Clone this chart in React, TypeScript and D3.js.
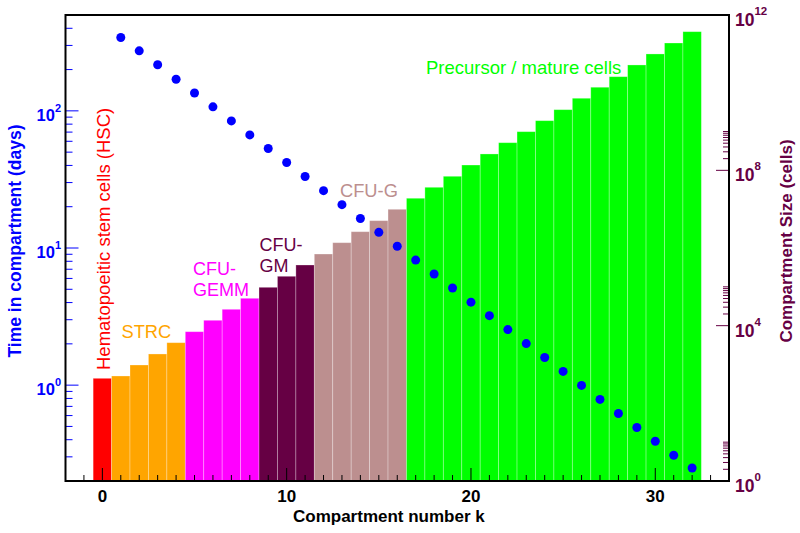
import React from "react";
import * as d3 from "d3";

// Compartment size (cells) for k = 0..32 (right axis)
const compartmentSize: number[] = [
  441, 506, 971, 1866, 3646, 7000, 1.376e4, 2.64e4, 5.07e4, 9.73e4, 1.87e5,
  3.65e5, 7.0e5, 1.37e6, 2.63e6, 5.06e6, 9.93e6, 1.91e7, 3.66e7, 7.03e7,
  1.37e8, 2.64e8, 5.15e8, 9.9e8, 1.9e9, 3.65e9, 7.18e9, 1.38e10, 2.58e10,
  5.17e10, 9.93e10, 1.9e11, 3.72e11,
];

// Time in compartment (days) for k = 1..32 (left axis)
const timeK: number[] = [
  1, 2, 3, 4, 5, 6, 7, 8, 9, 10, 11, 12, 13, 14, 15, 16, 17, 18, 19, 20, 21,
  22, 23, 24, 25, 26, 27, 28, 29, 30, 31, 32,
];
const timeDays: number[] = [
  343, 274, 217, 170, 135, 107, 84.5, 66.8, 53.2, 42.0, 33.2, 26.2, 20.7,
  16.4, 13.0, 10.3, 8.16, 6.46, 5.11, 4.03, 3.21, 2.54, 2.01, 1.59, 1.26,
  0.995, 0.787, 0.621, 0.491, 0.39, 0.308, 0.249,
];

// Compartment groups: name, first k, last k, colour
const groupNames: string[] = ["HSC", "STRC", "CFU-GEMM", "CFU-GM", "CFU-G", "Precursor"];
const groupStart: number[] = [0, 1, 5, 9, 12, 17];
const groupEnd: number[] = [0, 4, 8, 11, 16, 32];
const groupColors: string[] = ["#ff0000", "#ffa500", "#ff00ff", "#660044", "#bc8f8f", "#00ff00"];

const xTicksMajor: number[] = [0, 10, 20, 30];
const leftMajor: number[] = [1, 10, 100];
const leftExp: string[] = ["0", "1", "2"];
const rightMajor: number[] = [1, 1e4, 1e8, 1e12];
const rightExp: string[] = ["0", "4", "8", "12"];

const FONT = "'Liberation Sans', Arial, Helvetica, sans-serif";
const BLUE = "#0000ff";
const MAROON = "#660044";

export default function App() {
  const L = 65.5, R = 729, T = 15, B = 481;
  const x = d3.scaleLinear().domain([-2, 34]).range([L, R]);
  const yL = d3.scaleLog().domain([0.2, 500]).range([B, T]);
  const yR = d3.scaleLog().domain([1, 1e12]).range([B, T]);

  const colorOf = (k: number) => {
    for (let i = 0; i < groupStart.length; i++) {
      if (k >= groupStart[i] && k <= groupEnd[i]) return groupColors[i];
    }
    return "#000";
  };

  const leftMinor: number[] = [];
  for (let d = -1; d <= 2; d++) {
    for (let m = 2; m <= 9; m++) {
      const v = m * Math.pow(10, d);
      if (v >= 0.2 && v <= 500) leftMinor.push(v);
    }
  }
  const rightMinor: number[] = [];
  [0, 4, 8].forEach((d) => {
    for (let m = 2; m <= 10; m++) rightMinor.push(m * Math.pow(10, d));
  });
  const xMinor = d3.range(-1, 34);

  return (
    <svg
      width={800}
      height={533}
      style={{ position: "absolute", left: 0, top: 0, background: "#fff" }}
      fontFamily={FONT}
    >
      {compartmentSize.map((v, k) => (
        <rect
          key={"b" + k}
          x={x(k - 0.5)}
          y={yR(v)}
          width={x(k + 0.5) - x(k - 0.5)}
          height={B - yR(v)}
          fill={colorOf(k)}
          stroke="rgba(255,255,255,0.35)"
          strokeWidth={0.8}
        />
      ))}

      {timeDays.map((t, i) => (
        <circle key={"d" + i} cx={x(timeK[i])} cy={yL(t)} r={4.5} fill={BLUE} />
      ))}

      <text transform={`translate(110,370) rotate(-90)`} fill="#ff0000" fontSize={18.5}>
        Hematopoeitic stem cells (HSC)
      </text>
      <text x={121.5} y={337.5} fill="#ffa500" fontSize={18.3}>STRC</text>
      <text x={193} y={275} fill="#ff00ff" fontSize={18}>CFU-</text>
      <text x={193} y={295.5} fill="#ff00ff" fontSize={18}>GEMM</text>
      <text x={259.5} y={251} fill={MAROON} fontSize={18}>CFU-</text>
      <text x={259.5} y={271.5} fill={MAROON} fontSize={18}>GM</text>
      <text x={340} y={197} fill="#bc8f8f" fontSize={18.3}>CFU-G</text>
      <text x={426} y={74} fill="#00ff00" fontSize={18.5}>Precursor / mature cells</text>

      {xMinor.map((v) => (
        <line key={"xm" + v} x1={x(v)} x2={x(v)} y1={B} y2={B - (v % 10 === 0 ? 13 : 6)} stroke="#000" strokeWidth={1} />
      ))}
      {xTicksMajor.map((v) => (
        <text key={"xl" + v} x={x(v)} y={502} textAnchor="middle" fontSize={17} fontWeight="bold" fill="#000">
          {v}
        </text>
      ))}

      {leftMinor.map((v, i) => (
        <line key={"lm" + i} x1={L} x2={L + 7} y1={yL(v)} y2={yL(v)} stroke={BLUE} strokeWidth={1} />
      ))}
      {leftMajor.map((v, i) => (
        <g key={"lM" + i}>
          <line x1={L} x2={L + 13} y1={yL(v)} y2={yL(v)} stroke={BLUE} strokeWidth={1} />
          <text x={61} y={yL(v) + 10} textAnchor="end" fontSize={16.5} fontWeight="bold" fill={BLUE}>
            10
            <tspan dy={-9} fontSize={11}>{leftExp[i]}</tspan>
          </text>
        </g>
      ))}

      {rightMinor.map((v, i) => (
        <line key={"rm" + i} x1={R} x2={R - 6} y1={yR(v)} y2={yR(v)} stroke={MAROON} strokeWidth={1} />
      ))}
      {rightMajor.map((v, i) => (
        <g key={"rM" + i}>
          <line x1={R} x2={R - 13} y1={yR(v)} y2={yR(v)} stroke={MAROON} strokeWidth={1} />
          <text x={735} y={yR(v) + 11} fontSize={17.5} fontWeight="bold" fill={MAROON}>
            10
            <tspan dy={-11} fontSize={11.5}>{rightExp[i]}</tspan>
          </text>
        </g>
      ))}

      <rect x={L} y={T} width={R - L} height={B - T} fill="none" stroke="#000" strokeWidth={2} />

      <text x={293} y={522} fontSize={17} fontWeight="bold" fill="#000">
        Compartment number k
      </text>
      <text transform={`translate(21,241) rotate(-90)`} textAnchor="middle" fontSize={17.5} fontWeight="bold" fill={BLUE}>
        Time in compartment (days)
      </text>
      <text transform={`translate(792,241) rotate(-90)`} textAnchor="middle" fontSize={17} fontWeight="bold" fill={MAROON}>
        Compartment Size (cells)
      </text>
    </svg>
  );
}
